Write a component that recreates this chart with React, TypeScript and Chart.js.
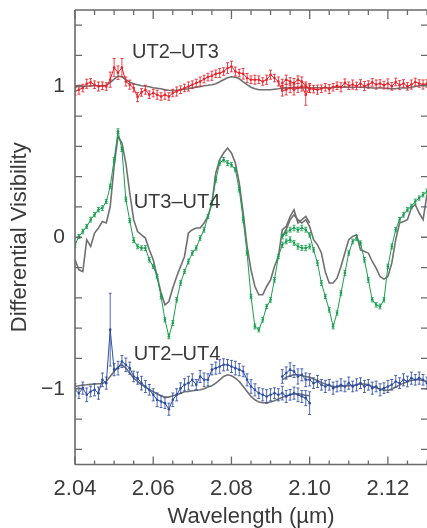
import React, { useEffect, useRef } from 'react';
import { Chart, registerables } from 'chart.js';
Chart.register(...registerables);

// ---------- data ----------
const WAVE_A = [2.040, 2.041, 2.042, 2.043, 2.044, 2.045, 2.046, 2.047, 2.048, 2.049,
  2.050, 2.051, 2.052, 2.053, 2.054, 2.055, 2.056, 2.057, 2.058, 2.059,
  2.060, 2.061, 2.062, 2.063, 2.064, 2.065, 2.066, 2.067, 2.068, 2.069,
  2.070, 2.071, 2.072, 2.073, 2.074, 2.075, 2.076, 2.077, 2.078, 2.079,
  2.080, 2.081, 2.082, 2.083, 2.084, 2.085, 2.086, 2.087, 2.088, 2.089,
  2.090, 2.091, 2.092, 2.093, 2.094, 2.095, 2.096, 2.097, 2.098, 2.099,
  2.100];
const WAVE_B = [2.093, 2.094, 2.095, 2.096, 2.097, 2.098, 2.099, 2.100, 2.101, 2.102,
  2.103, 2.104, 2.105, 2.106, 2.107, 2.108, 2.109, 2.110, 2.111, 2.112,
  2.113, 2.114, 2.115, 2.116, 2.117, 2.118, 2.119, 2.120, 2.121, 2.122,
  2.123, 2.124, 2.125, 2.126, 2.127, 2.128, 2.129, 2.130];

// UT2-UT3 (red)
const RED_A = [0.962, 0.974, 0.985, 1.013, 1.022, 1.007, 0.995, 1.000, 0.995, 1.040,
  1.120, 1.086, 1.120, 1.028, 1.007, 0.985, 0.925, 0.956, 0.974, 0.941,
  0.952, 0.941, 0.929, 0.941, 0.929, 0.952, 0.962, 0.974, 0.985, 0.995,
  1.007, 1.018, 1.028, 1.044, 1.057, 1.066, 1.079, 1.084, 1.094, 1.117,
  1.127, 1.094, 1.084, 1.079, 1.051, 1.040, 1.040, 1.040, 1.028, 1.040,
  1.073, 1.051, 1.028, 0.967, 0.974, 0.985, 0.974, 0.985, 0.995, 0.941,
  0.985];
const RED_A_ERR = [0.025, 0.030, 0.025, 0.030, 0.025, 0.025, 0.030, 0.025, 0.025, 0.050,
  0.060, 0.045, 0.060, 0.030, 0.030, 0.025, 0.030, 0.025, 0.030, 0.025,
  0.025, 0.030, 0.025, 0.030, 0.025, 0.025, 0.030, 0.025, 0.025, 0.030,
  0.025, 0.025, 0.030, 0.025, 0.025, 0.030, 0.025, 0.030, 0.025, 0.035,
  0.035, 0.030, 0.025, 0.035, 0.030, 0.025, 0.030, 0.025, 0.025, 0.030,
  0.030, 0.025, 0.030, 0.035, 0.035, 0.030, 0.035, 0.030, 0.030, 0.070,
  0.030];
const RED_B = [1.018, 1.040, 1.028, 1.018, 1.040, 1.028, 0.995, 0.980, 0.978, 0.974,
  0.980, 0.990, 0.978, 0.990, 1.000, 0.990, 1.020, 1.000, 1.008, 0.998,
  1.015, 0.998, 1.008, 1.022, 1.008, 1.015, 1.004, 1.015, 0.996, 1.025,
  1.004, 1.015, 0.996, 1.008, 1.025, 1.015, 1.008, 1.015];
const RED_B_ERR = [0.025, 0.030, 0.025, 0.030, 0.025, 0.030, 0.030, 0.025, 0.025, 0.030,
  0.025, 0.025, 0.030, 0.025, 0.025, 0.030, 0.025, 0.025, 0.030, 0.025,
  0.025, 0.030, 0.025, 0.025, 0.030, 0.025, 0.025, 0.030, 0.025, 0.025,
  0.030, 0.025, 0.025, 0.030, 0.025, 0.025, 0.030, 0.025];
const RED_MODEL_A = [0.993, 0.993, 0.997, 0.997, 1.000, 1.000, 1.000, 1.000, 1.003, 1.020,
  1.043, 1.063, 1.059, 1.040, 1.023, 1.013, 1.007, 1.000, 0.997, 0.993,
  0.987, 0.984, 0.980, 0.974, 0.970, 0.967, 0.970, 0.974, 0.977, 0.980,
  0.987, 0.990, 0.993, 1.000, 1.003, 1.007, 1.013, 1.026, 1.040, 1.053,
  1.059, 1.056, 1.046, 1.026, 1.007, 0.990, 0.980, 0.974, 0.974, 0.974,
  0.974, 0.977, 0.980, 0.984, 0.987, 0.987, 0.990, 0.990, 0.990, 0.990,
  0.990];
const RED_MODEL_B = [0.985, 0.985, 0.985, 0.985, 0.985, 0.985, 0.985, 0.985, 0.987, 0.987,
  0.987, 0.987, 0.987, 0.990, 0.990, 0.990, 0.990, 0.990, 0.990, 0.990,
  0.990, 0.990, 0.990, 0.985, 0.985, 0.985, 0.985, 0.980, 0.980, 0.980,
  0.985, 0.985, 0.985, 0.990, 0.995, 1.000, 1.005, 1.007];

// UT3-UT4 (green)
const GREEN_A = [-0.050, 0.005, 0.038, 0.071, 0.116, 0.149, 0.182, 0.193, 0.236, 0.335,
  0.512, 0.700, 0.580, 0.250, 0.110, -0.020, -0.061, -0.071, -0.071, -0.149,
  -0.193, -0.259, -0.391, -0.545, -0.655, -0.566, -0.413, -0.302, -0.226, -0.160,
  -0.104, -0.071, -0.005, 0.050, 0.137, 0.226, 0.380, 0.490, 0.512, 0.490,
  0.479, 0.446, 0.314, 0.116, -0.104, -0.391, -0.589, -0.611, -0.545, -0.457,
  -0.413, -0.281, -0.127, -0.050, -0.028, -0.016, -0.038, -0.061, -0.071, -0.071,
  -0.061];
const GREEN_A_ERR = [0.015, 0.013, 0.015, 0.014, 0.016, 0.014, 0.015, 0.016, 0.014, 0.015,
  0.015, 0.016, 0.014, 0.015, 0.014, 0.016, 0.015, 0.014, 0.016, 0.015,
  0.014, 0.015, 0.016, 0.014, 0.015, 0.016, 0.014, 0.015, 0.014, 0.016,
  0.015, 0.014, 0.015, 0.016, 0.014, 0.015, 0.016, 0.014, 0.015, 0.016,
  0.015, 0.014, 0.015, 0.016, 0.014, 0.015, 0.016, 0.014, 0.015, 0.014,
  0.016, 0.015, 0.014, 0.018, 0.016, 0.018, 0.016, 0.018, 0.016, 0.018,
  0.016];
const GREEN_B = [0.005, 0.028, 0.050, 0.061, 0.050, 0.061, 0.050, 0.016, -0.083, -0.170,
  -0.302, -0.391, -0.479, -0.589, -0.500, -0.368, -0.236, -0.104, -0.028, -0.005,
  -0.038, -0.149, -0.281, -0.413, -0.446, -0.457, -0.413, -0.193, -0.061, 0.050,
  0.116, 0.149, 0.182, 0.203, 0.236, 0.259, 0.281, 0.302];
const GREEN_B_ERR = [0.016, 0.018, 0.016, 0.018, 0.016, 0.018, 0.016, 0.015, 0.014, 0.015,
  0.016, 0.014, 0.015, 0.016, 0.014, 0.015, 0.016, 0.014, 0.015, 0.016,
  0.014, 0.015, 0.016, 0.014, 0.015, 0.016, 0.014, 0.015, 0.016, 0.014,
  0.015, 0.016, 0.014, 0.015, 0.016, 0.014, 0.015, 0.016];
const GREEN_MODEL_A = [-0.149, -0.215, -0.226, -0.016, -0.061, 0.028, 0.061, 0.104, 0.094, 0.203,
  0.467, 0.665, 0.622, 0.490, 0.292, 0.116, 0.038, 0.016, -0.005, -0.083,
  -0.149, -0.259, -0.368, -0.446, -0.424, -0.335, -0.259, -0.193, -0.127, 0.028,
  0.050, 0.061, 0.061, 0.094, 0.137, 0.226, 0.424, 0.512, 0.556, 0.589,
  0.556, 0.490, 0.358, 0.160, -0.060, -0.215, -0.325, -0.380, -0.380, -0.325,
  -0.281, -0.193, -0.127, 0.050, 0.071, 0.137, 0.182, 0.094, 0.116, 0.137,
  0.094];
const GREEN_MODEL_B = [0.005, 0.050, 0.116, 0.149, 0.116, 0.094, 0.116, 0.071, -0.016, -0.050,
  -0.104, -0.230, -0.302, -0.302, -0.270, -0.193, -0.104, -0.016, 0.005, 0.016,
  -0.083, -0.094, -0.104, -0.160, -0.204, -0.259, -0.276, -0.259, -0.170, -0.016,
  0.094, 0.104, 0.116, 0.193, 0.215, 0.160, 0.116, 0.281];

// UT2-UT4 (blue)
const BLUE_A = [-1.007, -1.029, -0.996, -1.040, -1.018, -1.007, -1.029, -0.941, -0.963, -0.610,
  -0.874, -0.864, -0.820, -0.842, -0.864, -0.919, -0.930, -0.963, -0.985, -1.007,
  -1.040, -1.073, -1.084, -1.095, -1.135, -1.073, -1.040, -0.996, -0.974, -0.963,
  -0.941, -0.974, -0.919, -0.941, -0.941, -0.874, -0.864, -0.853, -0.842, -0.842,
  -0.853, -0.864, -0.874, -0.886, -0.941, -0.985, -1.007, -1.029, -1.040, -1.051,
  -1.040, -1.029, -1.040, -1.029, -1.051, -1.040, -1.029, -1.040, -1.051, -1.062,
  -1.095];
const BLUE_A_ERR = [0.040, 0.035, 0.040, 0.045, 0.035, 0.040, 0.040, 0.045, 0.040, 0.240,
  0.040, 0.045, 0.040, 0.045, 0.040, 0.035, 0.040, 0.045, 0.040, 0.035,
  0.040, 0.045, 0.040, 0.035, 0.040, 0.045, 0.040, 0.035, 0.040, 0.045,
  0.040, 0.035, 0.040, 0.045, 0.040, 0.035, 0.040, 0.045, 0.040, 0.035,
  0.040, 0.045, 0.040, 0.035, 0.040, 0.045, 0.040, 0.035, 0.040, 0.045,
  0.040, 0.035, 0.040, 0.045, 0.040, 0.035, 0.040, 0.045, 0.040, 0.050,
  0.075];
const BLUE_B = [-0.919, -0.896, -0.874, -0.886, -0.919, -0.908, -0.941, -0.941, -0.963, -0.952,
  -0.974, -0.985, -0.974, -0.996, -0.985, -0.974, -0.985, -0.963, -0.985, -0.974,
  -0.963, -0.985, -0.974, -0.996, -0.985, -1.007, -0.996, -0.985, -0.974, -0.952,
  -0.963, -0.941, -0.952, -0.930, -0.941, -0.930, -0.941, -0.963];
const BLUE_B_ERR = [0.045, 0.040, 0.045, 0.040, 0.050, 0.040, 0.045, 0.040, 0.035, 0.040,
  0.035, 0.040, 0.035, 0.040, 0.035, 0.040, 0.035, 0.040, 0.035, 0.040,
  0.035, 0.040, 0.035, 0.040, 0.035, 0.040, 0.035, 0.040, 0.035, 0.040,
  0.035, 0.040, 0.035, 0.040, 0.035, 0.040, 0.035, 0.040];
const BLUE_MODEL_A = [-0.985, -0.980, -0.976, -0.974, -0.971, -0.969, -0.967, -0.965, -0.952, -0.919,
  -0.886, -0.857, -0.842, -0.864, -0.896, -0.930, -0.952, -0.974, -0.989, -1.007,
  -1.020, -1.033, -1.048, -1.055, -1.055, -1.046, -1.040, -1.029, -1.020, -1.018,
  -1.013, -1.009, -1.007, -1.000, -0.989, -0.980, -0.963, -0.941, -0.919, -0.908,
  -0.914, -0.930, -0.952, -0.985, -1.018, -1.051, -1.073, -1.088, -1.092, -1.092,
  -1.088, -1.079, -1.068, -1.057, -1.046, -1.040, -1.033, -1.033, -1.037, -1.044,
  -1.046];
const BLUE_MODEL_B = [-0.941, -0.925, -0.914, -0.908, -0.908, -0.912, -0.919, -0.925, -0.936, -0.945,
  -0.958, -0.969, -0.978, -0.985, -0.985, -0.985, -0.982, -0.980, -0.978, -0.974,
  -0.969, -0.969, -0.974, -0.985, -0.993, -1.002, -1.009, -1.011, -1.002, -0.989,
  -0.976, -0.963, -0.952, -0.945, -0.941, -0.941, -0.945, -0.952];

// axes
const X_TICKS = [2.04, 2.045, 2.05, 2.055, 2.06, 2.065, 2.07, 2.075, 2.08, 2.085,
  2.09, 2.095, 2.10, 2.105, 2.11, 2.115, 2.12, 2.125, 2.13];
const X_LABELS = [2.04, 2.06, 2.08, 2.10, 2.12];
const Y_TICKS = [-1.4, -1.2, -1, -0.8, -0.6, -0.4, -0.2, 0, 0.2, 0.4, 0.6, 0.8, 1, 1.2, 1.4];
const Y_LABELS = [-1, 0, 1];

// series labels
const SERIES_NAMES = ['UT2–UT3', 'UT3–UT4', 'UT2–UT4'];
const NAME_X = [2.0546, 2.0550, 2.0550];
const NAME_Y = [1.183, 0.193, -0.809];

const FONT = '"Liberation Sans", Arial, Helvetica, sans-serif';
const TEXT = '#3a3a3a';
const AXIS = '#6a6a6a';
const RED = '#ec1f28';
const GREEN = '#17a04f';
const BLUE = '#2e4ea6';
const GRAY = '#707070';

export default function App() {
  const ref = useRef<HTMLCanvasElement | null>(null);

  useEffect(() => {
    const canvas = ref.current;
    if (!canvas) return;
    const pts = (w: number[], v: number[]) => w.map((x, i) => ({ x, y: v[i] }));
    const obs = (label: string, w: number[], v: number[], err: number[], color: string) => ({
      label, data: pts(w, v), errors: err, borderColor: color, backgroundColor: color,
      borderWidth: 1, pointRadius: 1.3, pointBorderWidth: 0, pointBackgroundColor: color, tension: 0,
    });
    const model = (label: string, w: number[], v: number[]) => ({
      label, data: pts(w, v), borderColor: GRAY, borderWidth: 1.6, pointRadius: 0, tension: 0,
    });

    const isIn = (arr: number[], v: number) => arr.some((a) => Math.abs(a - v) < 1e-6);

    const framePlugin = {
      id: 'frame',
      afterDatasetDraw(chart: any, args: any) {
        const ds: any = chart.data.datasets[args.index];
        if (!ds.errors) return;
        const { ctx, chartArea } = chart;
        const ys = chart.scales.y;
        const meta = args.meta;
        ctx.save();
        ctx.beginPath();
        ctx.rect(chartArea.left, chartArea.top, chartArea.right - chartArea.left, chartArea.bottom - chartArea.top);
        ctx.clip();
        ctx.strokeStyle = ds.borderColor;
        ctx.lineWidth = 1;
        ctx.globalAlpha = 0.85;
        meta.data.forEach((el: any, i: number) => {
          const v = ds.data[i].y;
          const e = ds.errors[i];
          const x = el.x;
          const y1 = ys.getPixelForValue(v + e);
          const y2 = ys.getPixelForValue(v - e);
          ctx.beginPath();
          ctx.moveTo(x, y1); ctx.lineTo(x, y2);
          ctx.moveTo(x - 1.5, y1); ctx.lineTo(x + 1.5, y1);
          ctx.moveTo(x - 1.5, y2); ctx.lineTo(x + 1.5, y2);
          ctx.stroke();
        });
        ctx.restore();
      },
      afterDraw(chart: any) {
        const { ctx, chartArea } = chart;
        const { left, right, top, bottom } = chartArea;
        const xs = chart.scales.x;
        const ys = chart.scales.y;
        ctx.save();
        ctx.strokeStyle = AXIS;
        ctx.lineWidth = 1.6;
        ctx.beginPath();
        ctx.moveTo(left, top); ctx.lineTo(left, bottom);
        ctx.moveTo(left, bottom); ctx.lineTo(right, bottom);
        ctx.moveTo(left, top); ctx.lineTo(right, top);
        ctx.stroke();
        ctx.lineWidth = 1.3;
        ctx.beginPath();
        xs.ticks.forEach((t: any) => {
          const px = xs.getPixelForValue(t.value);
          const major = isIn(X_LABELS, t.value);
          ctx.moveTo(px, bottom); ctx.lineTo(px, bottom - (major ? 8 : 4));
          ctx.moveTo(px, top); ctx.lineTo(px, top + (major ? 9 : 5));
        });
        ys.ticks.forEach((t: any) => {
          const py = ys.getPixelForValue(t.value);
          ctx.moveTo(left, py); ctx.lineTo(left + 7, py);
          ctx.moveTo(right, py); ctx.lineTo(right - 6, py);
        });
        ctx.stroke();
        ctx.fillStyle = TEXT;
        ctx.font = `20px ${FONT}`;
        ctx.textBaseline = 'alphabetic';
        ctx.textAlign = 'left';
        SERIES_NAMES.forEach((n, i) => {
          ctx.fillText(n, xs.getPixelForValue(NAME_X[i]), ys.getPixelForValue(NAME_Y[i]));
        });
        ctx.restore();
      },
    };

    const chart = new Chart(canvas, {
      type: 'line',
      data: {
        datasets: [
          obs('UT2–UT3 A', WAVE_A, RED_A, RED_A_ERR, RED),
          obs('UT2–UT3 B', WAVE_B, RED_B, RED_B_ERR, RED),
          obs('UT3–UT4 A', WAVE_A, GREEN_A, GREEN_A_ERR, GREEN),
          obs('UT3–UT4 B', WAVE_B, GREEN_B, GREEN_B_ERR, GREEN),
          obs('UT2–UT4 A', WAVE_A, BLUE_A, BLUE_A_ERR, BLUE),
          obs('UT2–UT4 B', WAVE_B, BLUE_B, BLUE_B_ERR, BLUE),
          model('model UT2–UT3 A', WAVE_A, RED_MODEL_A),
          model('model UT2–UT3 B', WAVE_B, RED_MODEL_B),
          model('model UT3–UT4 A', WAVE_A, GREEN_MODEL_A),
          model('model UT3–UT4 B', WAVE_B, GREEN_MODEL_B),
          model('model UT2–UT4 A', WAVE_A, BLUE_MODEL_A),
          model('model UT2–UT4 B', WAVE_B, BLUE_MODEL_B),
        ] as any,
      },
      options: {
        animation: false,
        responsive: false,
        maintainAspectRatio: false,
        layout: { autoPadding: false, padding: { top: 10, right: 0, left: 0, bottom: 0 } } as any,
        plugins: { legend: { display: false }, tooltip: { enabled: false } },
        scales: {
          x: {
            type: 'linear', min: 2.04, max: 2.13,
            grid: { display: false, drawTicks: false }, border: { display: false },
            afterBuildTicks: (s: any) => { s.ticks = X_TICKS.map((value) => ({ value })); },
            afterFit: (s: any) => { s.height = 63.5; s.paddingLeft = 0; s.paddingRight = 0; s.paddingTop = 0; s.paddingBottom = 0; },
            ticks: {
              autoSkip: false, maxRotation: 0, padding: 11, color: TEXT,
              font: { family: FONT, size: 22 },
              callback: (v: any) => (isIn(X_LABELS, Number(v)) ? Number(v).toFixed(2) : ''),
            },
            title: {
              display: true, text: 'Wavelength (µm)', color: TEXT,
              font: { family: FONT, size: 22, lineHeight: 1 }, padding: { top: 0, bottom: 0 },
            },
          },
          y: {
            type: 'linear', min: -1.5, max: 1.5,
            grid: { display: false, drawTicks: false }, border: { display: false },
            afterBuildTicks: (s: any) => { s.ticks = Y_TICKS.map((value) => ({ value })); },
            afterFit: (s: any) => { s.width = 75; s.paddingLeft = 0; s.paddingRight = 0; s.paddingTop = 0; s.paddingBottom = 0; },
            ticks: {
              autoSkip: false, padding: 10, color: TEXT,
              font: { family: FONT, size: 21 },
              callback: (v: any) => {
                const n = Number(v);
                if (!isIn(Y_LABELS, n)) return '';
                const r = Math.round(n);
                return r < 0 ? '\u2212' + Math.abs(r) : String(r);
              },
            },
            title: {
              display: true, text: 'Differential Visibility', color: TEXT,
              font: { family: FONT, size: 22, lineHeight: 1.2 }, padding: { top: 7, bottom: 0 },
            },
          },
        },
      } as any,
      plugins: [framePlugin],
    });
    return () => chart.destroy();
  }, []);

  return (
    <div style={{ position: 'absolute', left: 0, top: 0, width: 427, height: 528 }}>
      <canvas ref={ref} width={427} height={528} style={{ display: 'block' }} />
    </div>
  );
}
